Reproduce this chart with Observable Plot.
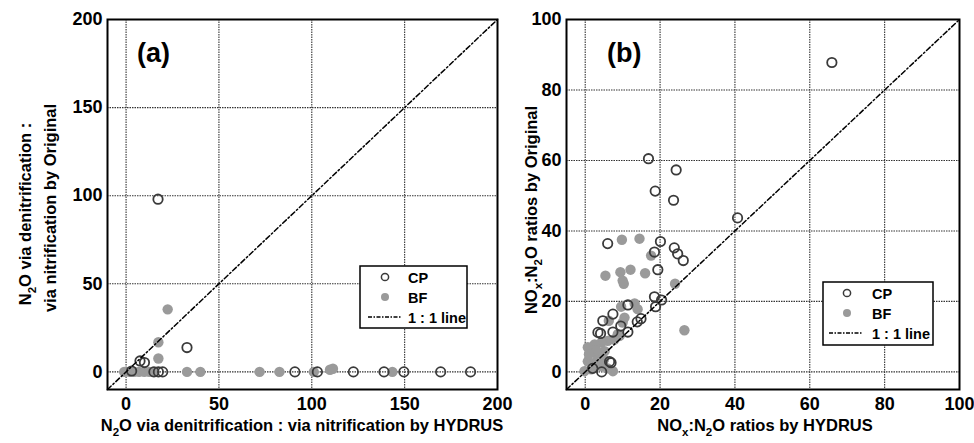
<!DOCTYPE html>
<html>
<head>
<meta charset="utf-8">
<script src="https://cdn.jsdelivr.net/npm/d3@7"></script>
<script src="https://cdn.jsdelivr.net/npm/@observablehq/plot@0.6"></script>
<style>
  html, body { margin: 0; padding: 0; background: #fff; }
  #wrap { display: flex; width: 974px; height: 443px; }
  #wrap svg { overflow: visible; }
  svg text { font-family: "Liberation Sans", Arial, sans-serif; }
</style>
</head>
<body>
<div id="wrap"></div>
<script>
// ---------- DATA ----------
// Panel (a): N2O via denitrification : via nitrification  (HYDRUS, Original)
const aCP = [[17.2, 98], [32.8, 13.8], [7.5, 6.2], [9.9, 5.3], [3, 0.5], [15, 0], [17.4, 0], [19.7, 0],
  [90.9, 0], [103, 0], [122.4, 0], [138.9, 0], [149.6, 0], [169.4, 0], [185.5, 0]];
const aBF = [[22.4, 35.5], [17.4, 16.8], [17.4, 7.6], [-1, 0], [1.8, 0], [4.4, 0], [7, 0], [9.8, 0],
  [12.5, 0], [14.3, 0], [32.8, 0], [40, 0], [71.9, 0], [82.6, 0], [101.1, 0], [109.8, 1.2], [111.4, 1.8], [143.4, 0]];
// Panel (b): NOx:N2O ratios (HYDRUS, Original)
const bCP = [[16.9, 60.5], [24.3, 57.3], [18.7, 51.3], [23.6, 48.7], [40.7, 43.7], [65.9, 87.8],
  [6.0, 36.4], [20.1, 37.0], [23.8, 35.2], [24.7, 33.5], [26.2, 31.6], [18.5, 34.0], [19.4, 29.0],
  [18.5, 21.3], [20.4, 20.4], [18.8, 18.5], [14.9, 15.1], [13.9, 14.2], [11.4, 11.3], [4.7, 14.5],
  [7.4, 16.4], [11.4, 19.0], [4.1, 10.9], [7.4, 11.3], [6.5, 2.9], [4.4, 0], [6.9, 2.6], [3.4, 11.2],
  [9.5, 13.0], [2.0, 1.0]];
const bBF = [[9.8, 37.5], [14.5, 37.8], [17.6, 33.0], [5.4, 27.3], [9.4, 28.3], [12.1, 29.0], [16.0, 28.0],
  [10.3, 25.0], [10.0, 25.9], [24.0, 25.0], [26.5, 11.8], [13.2, 19.4], [14.0, 17.8], [9.6, 18.5],
  [10.5, 15.4], [10.0, 14.0], [6.3, 14.5], [8.7, 10.7], [7.8, 9.2], [6.0, 8.8], [4.3, 8.3], [2.5, 7.8],
  [0.7, 7.0], [0.7, 3.0], [2.5, 2.6], [4.3, 1.6], [7.4, 0.2], [-0.2, 0.2], [1.6, 0.7], [5.2, 5.9],
  [3.4, 4.5], [9.2, 10.2], [3.0, 6.0], [5.0, 3.5], [6.0, 1.0], [1.0, 5.0]];
const aTicks = [0, 50, 100, 150, 200];
const bTicks = [0, 20, 40, 60, 80, 100];
const aDomain = [-10, 200];
const bDomain = [-5, 100];
const legendLabels = ["CP", "BF", "1 : 1 line"];

// ---------- STYLE ----------
const FONT = "'Liberation Sans', Arial, sans-serif";
const openStroke = "#3a3a3a";
const fillGray = "#9a9a9a";
const dash = "5,2.5,1.5,2.5";
const TITLE = 16.5;

function panel({width, ml, mr, domain, ticks, cp, bf}) {
  const gridT = ticks.filter(t => t > domain[0] && t < domain[1]);
  return Plot.plot({
    width, height: 443,
    marginLeft: ml, marginRight: mr, marginTop: 19, marginBottom: 54,
    style: {fontFamily: FONT, fontSize: "18px", fontWeight: "bold", color: "black", background: "transparent", overflow: "visible"},
    x: {domain, ticks, label: null},
    y: {domain, ticks, label: null},
    marks: [
      Plot.gridX(gridT, {stroke: "#333", strokeOpacity: 1, strokeWidth: 1.1, strokeDasharray: "1.5,1"}),
      Plot.gridY(gridT, {stroke: "#333", strokeOpacity: 1, strokeWidth: 1.1, strokeDasharray: "1.5,1"}),
      Plot.axisX({ticks, tickSize: 0, tickPadding: 8, label: null, tickFormat: d => d}),
      Plot.axisY({ticks, tickSize: 0, tickPadding: 5, label: null, tickFormat: d => d}),
      Plot.dot(bf, {x: d => d[0], y: d => d[1], r: 5.2, fill: fillGray, stroke: "none"}),
      Plot.dot(cp, {x: d => d[0], y: d => d[1], r: 4.7, fill: "none", stroke: openStroke, strokeWidth: 1.8}),
      Plot.line(domain, {x: d => d, y: d => d, stroke: "black", strokeWidth: 1.5, strokeDasharray: dash}),
      Plot.frame({stroke: "black", strokeWidth: 2})
    ]
  });
}

function addText(g, x, y, parts, opts = {}) {
  const t = g.append("text")
    .attr("x", x).attr("y", y)
    .attr("font-family", FONT).attr("font-weight", "bold")
    .attr("font-size", opts.size || TITLE)
    .attr("text-anchor", opts.anchor || "middle")
    .attr("fill", "black");
  if (opts.rotate) t.attr("transform", `rotate(-90 ${x} ${y})`);
  let shift = 0;
  for (const p of parts) {
    if (typeof p === "string") {
      t.append("tspan").attr("dy", -shift).text(p);
      shift = 0;
    } else {
      t.append("tspan").attr("dy", 5).attr("font-size", 11.5).text(p.sub);
      shift = 5;
    }
  }
  return t;
}

function legend(g, x0, y0, w, h, cx, tx, lx1, lx2) {
  g.append("rect").attr("x", x0).attr("y", y0).attr("width", w).attr("height", h)
    .attr("fill", "white").attr("stroke", "black").attr("stroke-width", 1.5);
  const r1 = y0 + 11, r2 = y0 + 31, r3 = y0 + 51;
  g.append("circle").attr("cx", cx).attr("cy", r1).attr("r", 3.6)
    .attr("fill", "none").attr("stroke", openStroke).attr("stroke-width", 1.5);
  g.append("circle").attr("cx", cx).attr("cy", r2).attr("r", 4)
    .attr("fill", fillGray);
  g.append("line").attr("x1", lx1).attr("x2", lx2).attr("y1", r3).attr("y2", r3)
    .attr("stroke", "black").attr("stroke-width", 1.3).attr("stroke-dasharray", "4,1.5,1.5,1.5");
  [r1, r2, r3].forEach((ry, i) => {
    g.append("text").attr("x", tx).attr("y", ry + 5.5)
      .attr("text-anchor", "start")
      .attr("font-family", FONT).attr("font-weight", "bold").attr("font-size", 14.5)
      .attr("fill", "black").text(legendLabels[i]);
  });
}

const wrap = document.getElementById("wrap");

// Panel (a)
const svgA = panel({width: 510, ml: 107, mr: 13, domain: aDomain, ticks: aTicks, cp: aCP, bf: aBF});
wrap.appendChild(svgA);
const gA = d3.select(svgA).append("g");
addText(gA, 302, 431, ["N", {sub: "2"}, "O via denitrification : via nitrification by HYDRUS"]);
addText(gA, 31, 214, ["N", {sub: "2"}, "O via denitrification :"], {rotate: true});
addText(gA, 56, 208, ["via nitrification by Original"], {rotate: true});
addText(gA, 137, 62, ["(a)"], {size: 27, anchor: "start"});
legend(gA, 360, 266, 107, 62, 385, 408, 368, 402);

// Panel (b)
const svgB = panel({width: 464, ml: 56, mr: 15, domain: bDomain, ticks: bTicks, cp: bCP, bf: bBF});
wrap.appendChild(svgB);
const gB = d3.select(svgB).append("g");
addText(gB, 255, 431, ["NO", {sub: "x"}, ":N", {sub: "2"}, "O ratios by HYDRUS"]);
addText(gB, 27, 210, ["NO", {sub: "x"}, ":N", {sub: "2"}, "O ratios by Original"], {rotate: true});
addText(gB, 97, 62, ["(b)"], {size: 27, anchor: "start"});
legend(gB, 313, 282, 110, 63, 337, 362, 319, 353);
</script>
</body>
</html>
